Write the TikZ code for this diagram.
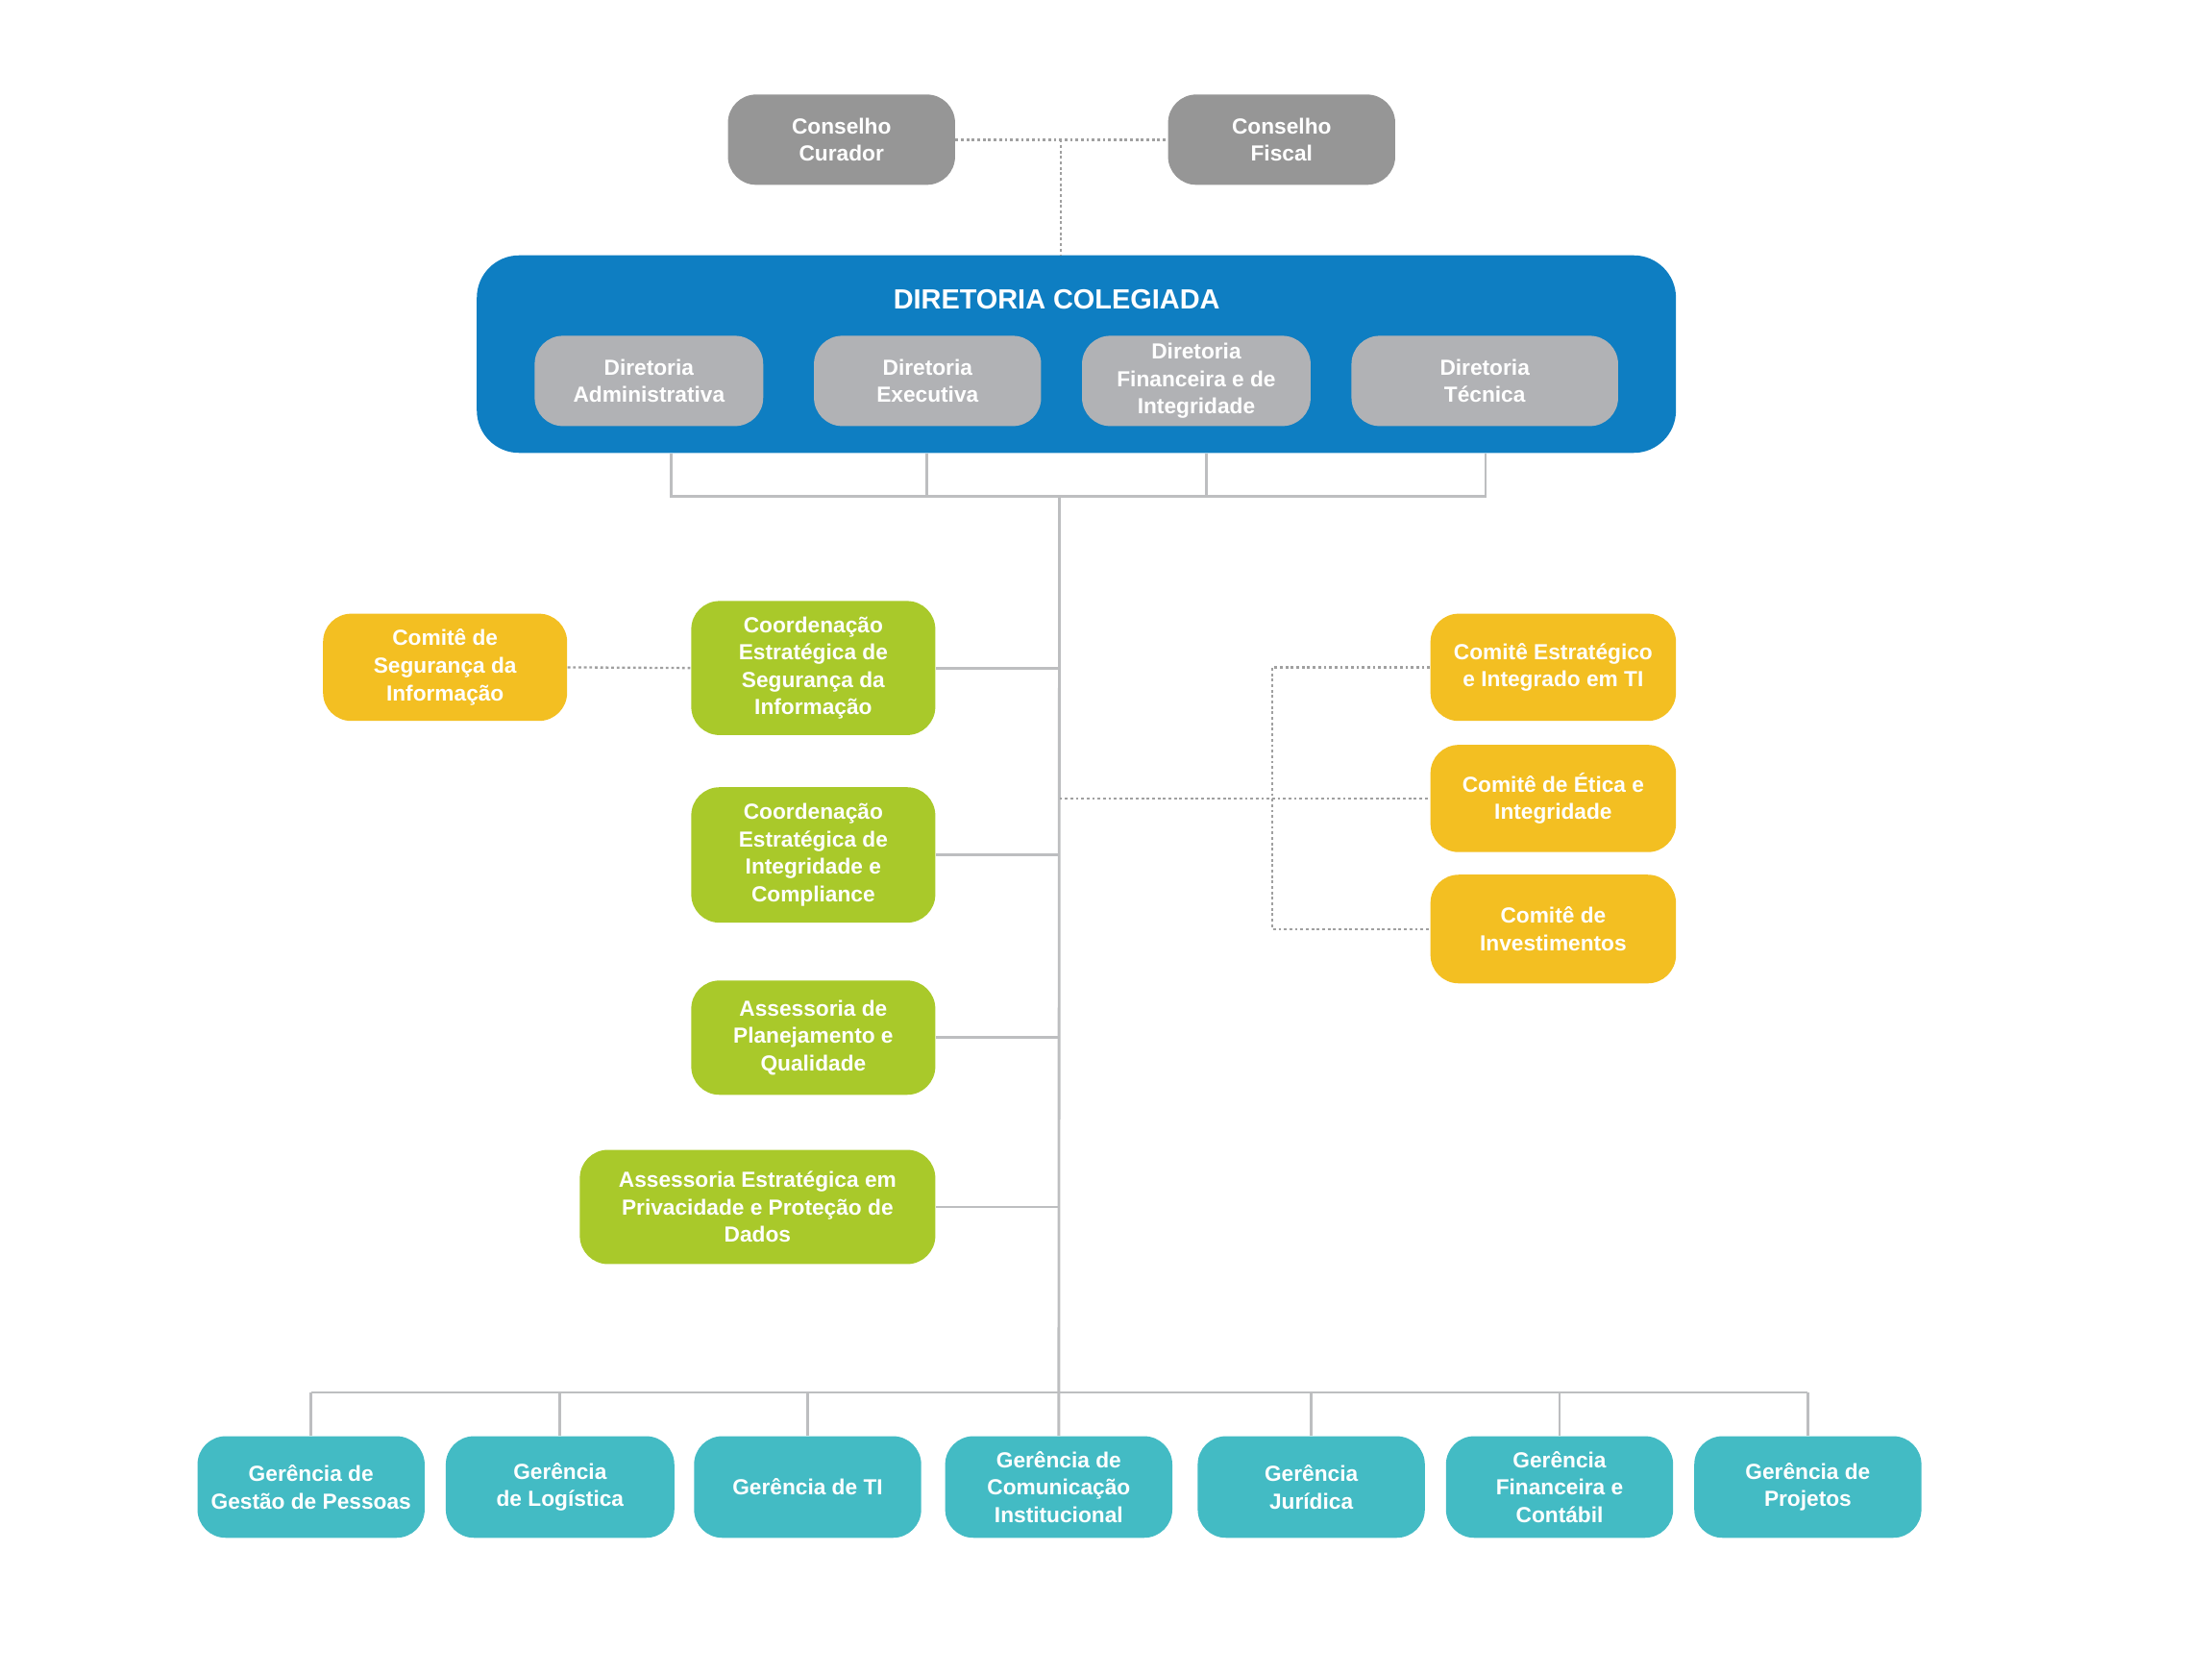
\documentclass[tikz,border=0pt]{standalone}
\usepackage{fontspec}
\setmainfont{Liberation Sans}
\definecolor{conselho}{HTML}{969696}
\definecolor{diretoria}{HTML}{B1B2B5}
\definecolor{colegiada}{HTML}{0E7EC2}
\definecolor{assessoria}{HTML}{A9C92A}
\definecolor{comite}{HTML}{F3BF22}
\definecolor{gerencia}{HTML}{43BBC4}
\definecolor{linha}{HTML}{BDBEC0}
\definecolor{pontos}{HTML}{A0A0A0}

\begin{document}
\begin{tikzpicture}[x=0.02cm, y=-0.02cm,
  box/.style={fill=#1, rounded corners=0.4cm, text=white, align=center, inner sep=0pt,
    font=\bfseries\fontsize{8.8}{11.1}\selectfont},
  sz/.style 2 args={minimum width=#1*0.02cm, minimum height=#2*0.02cm},
  link/.style={draw=linha, line width=1.1pt},
  dots/.style={draw=pontos, line width=0.9pt, dash pattern=on 1.1pt off 1.1pt}]
\useasboundingbox (0,0) rectangle (1568,1186);
\begin{scope}
\node[box=conselho, sz={161}{64}] (cc) at (596.5,99) {Conselho\\Curador};
\node[box=conselho, sz={161}{64}] (cf) at (908.5,99) {Conselho\\Fiscal};
\node[box=colegiada, rounded corners=0.6cm, sz={850}{140}] (dc) at (763,251) {};
\node[text=white, inner sep=0pt, font=\bfseries\fontsize{11.2}{13}\selectfont] (dct) at (749,212) {DIRETORIA COLEGIADA};
\node[box=diretoria, sz={162}{64}] (dadm) at (460,270) {Diretoria\\Administrativa};
\node[box=diretoria, sz={161}{64}] (dexe) at (657.5,270) {Diretoria\\Executiva};
\node[box=diretoria, sz={162}{64}] (dfin) at (848,270) {Diretoria\\Financeira e de\\Integridade};
\node[box=diretoria, sz={189}{64}] (dtec) at (1052.5,270) {Diretoria\\Técnica};
\coordinate (topo) at (752,99);
\coordinate (hub) at (751,352);
\coordinate (bus) at (751,987);
\coordinate (ramal) at (902,566);
\end{scope}
\begin{scope}
\node[box=comite, sz={173}{76}] (csi) at (315.5,473) {Comitê de\\Segurança da\\Informação};
\node[box=assessoria, sz={173}{95}] (cesi) at (576.5,473.5) {Coordenação\\Estratégica de\\Segurança da\\Informação};
\node[box=assessoria, sz={173}{96}] (ceic) at (576.5,606) {Coordenação\\Estratégica de\\Integridade e\\Compliance};
\node[box=assessoria, sz={173}{81}] (apq) at (576.5,735.5) {Assessoria de\\Planejamento e\\Qualidade};
\node[box=assessoria, sz={252}{81}] (aepd) at (537,855.5) {Assessoria Estratégica em\\Privacidade e Proteção de\\Dados};
\node[box=comite, sz={174}{76}] (cet) at (1101,473) {Comitê Estratégico\\e Integrado em TI};
\node[box=comite, sz={174}{76}] (cei) at (1101,566) {Comitê de Ética e\\Integridade};
\node[box=comite, sz={174}{77}] (cinv) at (1101,658.5) {Comitê de\\Investimentos};
\end{scope}
\begin{scope}
\node[box=gerencia, sz={161}{72}] (ggp) at (220.5,1054) {Gerência de\\Gestão de Pessoas};
\node[box=gerencia, sz={162}{72}] (glog) at (397,1054) {Gerência\\de Logística};
\node[box=gerencia, sz={161}{72}] (gti) at (572.5,1054) {Gerência de TI};
\node[box=gerencia, sz={161}{72}] (gcom) at (750.5,1054) {Gerência de\\Comunicação\\Institucional};
\node[box=gerencia, sz={161}{72}] (gjur) at (929.5,1054) {Gerência\\Jurídica};
\node[box=gerencia, sz={161}{72}] (gfin) at (1105.5,1054) {Gerência\\Financeira e\\Contábil};
\node[box=gerencia, sz={161}{72}] (gproj) at (1281.5,1054) {Gerência de\\Projetos};
\end{scope}
\draw[dots] (cc.east) -- (cf.west);
\draw[dots] (topo) -- (dc.north -| topo);
\draw[link] (dc.south -| 476,0) |- (hub) -| (dc.south -| 1053,0);
\draw[link] (dc.south -| 657,0) -- (hub -| 657,0);
\draw[link] (dc.south -| 855,0) -- (hub -| 855,0);
\draw[link] (hub) -- (gcom.north);
\foreach \n in {cesi,ceic,apq,aepd} \draw[link] (\n.east) -- (\n.east -| hub);
\draw[dots] (csi.east) -- (cesi.west);
\draw[dots] (hub |- cei.west) -- (cei.west);
\draw[dots] (cet.west) -| (ramal) |- (cinv.west);
\draw[link] (ggp.north |- bus) -- (gproj.north |- bus);
\foreach \n in {ggp,glog,gti,gjur,gfin,gproj} \draw[link] (\n.north) -- (\n.north |- bus);
\end{tikzpicture}
\end{document}
